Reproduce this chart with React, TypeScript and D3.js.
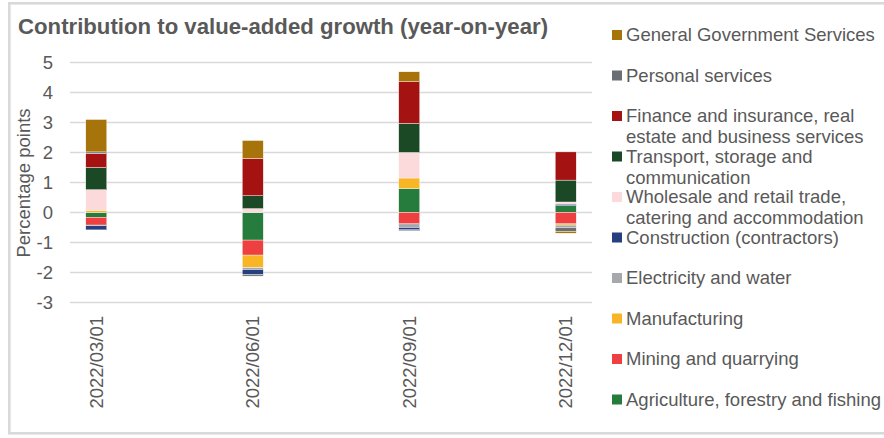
import React from "react";
import * as d3 from "d3";

const dates = ["2022/03/01", "2022/06/01", "2022/09/01", "2022/12/01"];

// series in stacking order (bottom first)
const agriculture = [-0.16, -0.92, 0.8, 0.23];
const mining = [-0.26, -0.5, -0.38, -0.38];
const manufacturing = [0.07, -0.42, 0.35, -0.04];
const electricity = [-0.02, -0.06, -0.12, -0.08];
const construction = [-0.14, -0.16, -0.08, 0.05];
const wholesale = [0.69, 0.13, 0.85, 0.07];
const transport = [0.74, 0.43, 0.97, 0.73];
const finance = [0.47, 1.24, 1.39, 0.94];
const personal = [0.05, -0.06, -0.03, -0.13];
const government = [1.08, 0.6, 0.33, -0.06];

const seriesNames = [
  "Agriculture, forestry and fishing",
  "Mining and quarrying",
  "Manufacturing",
  "Electricity and water",
  "Construction (contractors)",
  "Wholesale and retail trade, catering and accommodation",
  "Transport, storage and communication",
  "Finance and insurance, real estate and business services",
  "Personal services",
  "General Government Services",
];
const legendLines = [
  ["Agriculture, forestry and fishing"],
  ["Mining and quarrying"],
  ["Manufacturing"],
  ["Electricity and water"],
  ["Construction (contractors)"],
  ["Wholesale and retail trade,", "catering and accommodation"],
  ["Transport, storage and", "communication"],
  ["Finance and insurance, real", "estate and business services"],
  ["Personal services"],
  ["General Government Services"],
];
const seriesValues = [
  agriculture, mining, manufacturing, electricity, construction,
  wholesale, transport, finance, personal, government,
];
const colors = [
  "#267c3d", "#ee4040", "#f8b526", "#a6a8ab", "#263f7f",
  "#fcd9da", "#1b4825", "#a51212", "#6b6e72", "#a6740a",
];
const yTicks = [5, 4, 3, 2, 1, 0, -1, -2, -3];

const title = "Contribution to value-added growth (year-on-year)";
const yLabel = "Percentage points";

const FONT = "'Liberation Sans', Arial, Helvetica, sans-serif";
const TXT = "#595959";

export default function App() {
  const W = 884, H = 438;
  const x = d3.scalePoint<string>().domain(dates).range([70, 592]).padding(0.168);
  const y = d3.scaleLinear().domain([-3, 5]).range([302.5, 62.5]);

  const table = dates.map((d, i) => {
    const row: any = { date: d };
    seriesNames.forEach((s, k) => (row[s] = seriesValues[k][i]));
    return row;
  });
  const stacked = d3.stack<any>().keys(seriesNames).offset(d3.stackOffsetDiverging)(table);
  const barW = 21;

  return (
    <svg width={W} height={H} style={{ position: "absolute", left: 0, top: 0, background: "#fff" }} fontFamily={FONT}>
      <rect x={0} y={0} width={W} height={H} fill="#fff" />
      <rect x={9.3} y={3.3} width={1000} height={430} fill="none" stroke="#d9d9d9" strokeWidth={2.6} />
      <text x={18} y={34} fontSize={22.2} fontWeight="bold" fill={TXT}>{title}</text>

      {yTicks.map((t) => (
        <g key={t}>
          <line x1={70} x2={592} y1={y(t)} y2={y(t)} stroke="#d9d9d9" strokeWidth={1.3} />
          <text x={53} y={y(t)} dy="0.35em" textAnchor="end" fontSize={18.5} fill={TXT}>{t}</text>
        </g>
      ))}

      <text transform={`translate(29.5,183) rotate(-90)`} textAnchor="middle" fontSize={18.5} fill={TXT}>{yLabel}</text>

      {stacked.map((s, k) => (
        <g key={s.key} fill={colors[k]}>
          {s.map((seg, i) => {
            const y0 = y(seg[0]), y1 = y(seg[1]);
            const top = Math.min(y0, y1), h = Math.abs(y1 - y0);
            if (h < 0.01) return null;
            return (
              <rect key={i} x={(x(dates[i]) as number) - barW / 2} y={top} width={barW} height={h}
                stroke="#ffffff" strokeWidth={0.4} />
            );
          })}
        </g>
      ))}

      {dates.map((d) => (
        <text key={d} transform={`translate(${x(d)},316) rotate(-90)`} textAnchor="end" dy="0.36em" fontSize={18.5} fill={TXT}>{d}</text>
      ))}

      {legendLines.slice().reverse().map((lines, j) => {
        const k = seriesNames.length - 1 - j;
        const cy = 35 + j * 40.5;
        return (
          <g key={k}>
            <rect x={612} y={cy - 5} width={10} height={10} fill={colors[k]} />
            {lines.map((ln, li) => (
              <text key={li} x={626} y={cy + li * 21} dy="0.35em" fontSize={18.5} fill={TXT}>{ln}</text>
            ))}
          </g>
        );
      })}
    </svg>
  );
}
